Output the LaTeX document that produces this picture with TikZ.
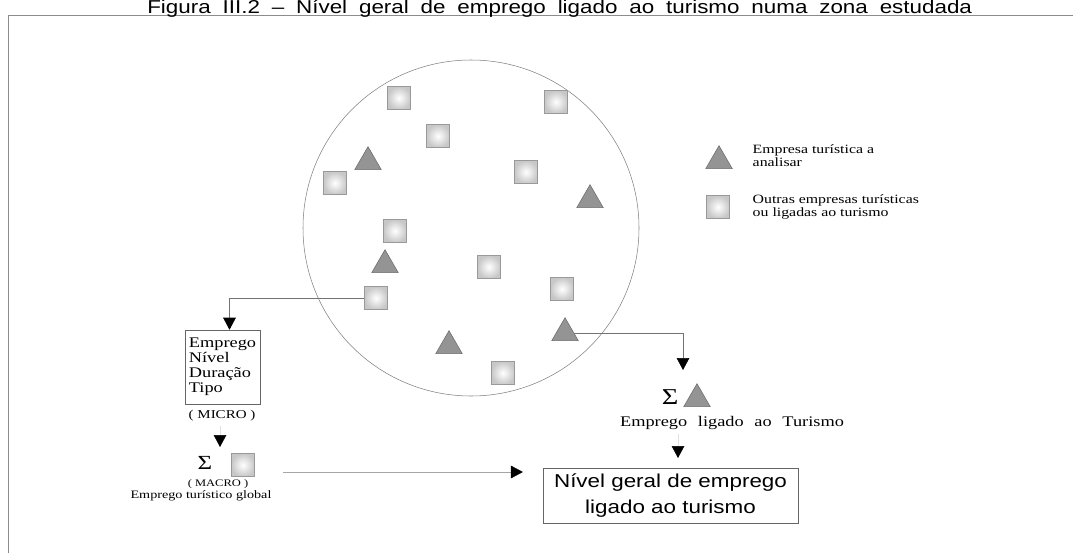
\documentclass[tikz,border=0pt]{standalone}
\usepackage{fontspec}
\newfontfamily\scanserif{Liberation Serif}[FakeStretch=1.25]
\newfontfamily\scansans{Liberation Sans}[FakeStretch=1.2]
\usetikzlibrary{shapes.geometric,arrows.meta,calc}
\newcommand\titlefont{\scansans\fontsize{14}{14}\selectfont\spaceskip=8.9pt\relax}
\newcommand\widefont{\scanserif\fontsize{11}{11}\selectfont\spaceskip=8pt\relax}

\begin{document}
\begin{tikzpicture}[x=0.75pt,y=-0.75pt,
  sq/.style={draw=black!40,inner color=white,outer color=black!22,minimum size=17.5pt,inner sep=0pt},
  tri/.style={regular polygon,regular polygon sides=3,draw=black!58,fill=black!42,minimum size=23pt,inner sep=0pt},
  link/.style={draw=black!55,-{Triangle[width=9.5pt,length=9pt,color=black]}},
  faint/.style={draw=black!12,-{Triangle[width=9.5pt,length=9pt,color=black]}}]
  \useasboundingbox (0,0) rectangle (1073,553);
  \draw[black!45] (8,553) -- (8,15) -- (1073,15);
  \node[font=\titlefont,anchor=base west,inner sep=0pt] (title) at (147,13.5) {Figura III.2 – Nível geral de emprego ligado ao turismo numa zona estudada};
  \draw[black!50] (471,228) circle[radius=168];
  \node[sq] (s1) at (399,98) {};
  \node[sq] (s2) at (556,102) {};
  \node[sq] (s3) at (438,136) {};
  \node[sq] (s4) at (335,183) {};
  \node[sq] (s5) at (526,172) {};
  \node[sq] (s6) at (395,231) {};
  \node[sq] (s7) at (489,267) {};
  \node[sq] (s8) at (562,289) {};
  \node[sq] (s9) at (376,298) {};
  \node[sq] (s10) at (503,373) {};
  \node[tri] (t1) at (368,162) {};
  \node[tri] (t2) at (590,200) {};
  \node[tri] (t3) at (385,265) {};
  \node[tri] (t4) at (449,346) {};
  \node[tri] (t5) at (565,333) {};
  \node[tri] (keyt) at (719,161) {};
  \node[sq] (keys) at (718,207) {};
  \node[font=\scanserif\fontsize{9.5}{9.75}\selectfont,align=left,anchor=west] (keyta) at (748,156) {Empresa turística a\\analisar};
  \node[font=\scanserif\fontsize{9.5}{9.75}\selectfont,align=left,anchor=west] (keysa) at (748,207) {Outras empresas turísticas\\ou ligadas ao turismo};
  \node[draw=black!60,align=left,font=\scanserif\fontsize{11}{11.25}\selectfont,inner xsep=2.8pt,minimum height=55.5pt] (dims) at (222.5,367) {Emprego\\Nível\\Duração\\Tipo};
  \node[font=\scanserif\fontsize{9}{9}\selectfont] (micro) at (222,416) {( MICRO )};
  \coordinate (tipM) at (220,447);
  \node[font=\scanserif\fontsize{15}{15}\selectfont] (sumL) at (205,463) {Σ};
  \node[sq] (sqL) at (243,465) {};
  \node[font=\scanserif\fontsize{7.5}{7.5}\selectfont] (macro) at (218,484) {( MACRO )};
  \node[font=\scanserif\fontsize{8.5}{8.5}\selectfont] (global) at (201,496) {Emprego turístico global};
  \node[font=\scanserif\fontsize{17}{17}\selectfont] (sumR) at (670,397) {Σ};
  \node[tri] (triR) at (697,399) {};
  \node[font=\widefont] (lblR) at (732,423) {Emprego ligado ao Turismo};
  \coordinate (tipR) at (683,370);
  \coordinate (tipA) at (678,458);
  \node[draw=black!60,align=center,font=\scansans\fontsize{14}{20}\selectfont,minimum width=191pt,minimum height=41pt] (goal) at (670.5,495.5) {Nível geral de emprego\\ligado ao turismo};
  \draw[link] (s9.west) -| ($(dims.north)+(7,0)$);
  \draw[link] (t5.east) -| (tipR);
  \draw[faint] (micro.south -| tipM) -- (tipM);
  \draw[faint] (lblR.south -| tipA) -- (tipA);
  \draw[link,draw=black!35] ($(sqL.east)+(28,7)$) -- ($(sqL.east -| goal.west)+(-20,7)$);
\end{tikzpicture}
\end{document}
